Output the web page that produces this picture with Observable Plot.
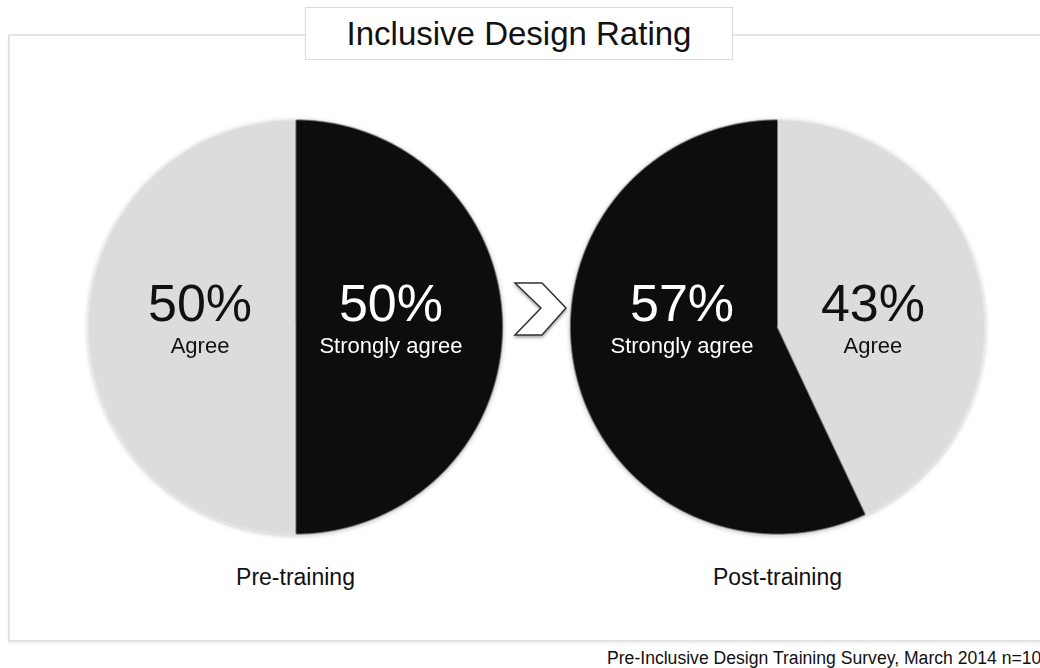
<!DOCTYPE html>
<html>
<head>
<meta charset="utf-8">
<script src="https://cdn.jsdelivr.net/npm/d3@7"></script>
<script src="https://cdn.jsdelivr.net/npm/@observablehq/plot@0.6"></script>
<style>
  html, body { margin: 0; padding: 0; background: #fff; }
  body { width: 1040px; height: 668px; overflow: hidden; position: relative;
         font-family: "Liberation Sans", Arial, Helvetica, sans-serif; }
  #frame { position: absolute; left: 8px; top: 34px; width: 1060px; height: 604px;
           border: 2px solid #e3e3e3; box-shadow: 0 2px 3px rgba(0,0,0,0.06); }
  #title { position: absolute; left: 305px; top: 7px; width: 426px; height: 51px;
           background: #fff; border: 1px solid #dcdcdc; text-align: center;
           font-size: 33px; line-height: 51px; color: #111; z-index: 3; }
  #chart { position: absolute; left: 0; top: 0; z-index: 2; }
  #arrow { position: absolute; left: 505px; top: 272px; z-index: 3; overflow: visible; }
  #footer { position: absolute; left: 607px; top: 648px; font-size: 17.6px; line-height: 20px;
            white-space: nowrap; color: #111; z-index: 3; }
  .pies g[aria-label="line"] { filter: drop-shadow(0px 1px 2px rgba(0,0,0,0.25)); }
</style>
</head>
<body>
<div id="frame"></div>
<div id="title">Inclusive Design Rating</div>
<div id="chart"></div>
<svg id="arrow" width="70" height="75">
  <defs>
    <filter id="sh" x="-30%" y="-30%" width="160%" height="160%">
      <feDropShadow dx="0" dy="2" stdDeviation="1.5" flood-color="#000" flood-opacity="0.35"/>
    </filter>
  </defs>
  <polygon points="10,11 37,11 61,36 37,63 10,63 36,36" fill="#fff" stroke="#333" stroke-width="1.5" stroke-linejoin="miter" filter="url(#sh)"/>
</svg>
<div id="footer">Pre-Inclusive Design Training Survey, March 2014 n=10</div>
<script>
// ---- data ----
const groups = ["Pre-training", "Post-training"];
const categories = ["Strongly agree", "Agree"];
const preValues = [50, 50];    // Strongly agree, Agree
const postValues = [57, 43];   // Strongly agree, Agree
const preOrder = ["Strongly agree", "Agree"];   // clockwise from 12 o'clock
const postOrder = ["Agree", "Strongly agree"];
const sliceColors = ["#0d0d0d", "#dcdcdc"];

// ---- build slice polygons (unit radius) and labels from the data ----
const slicePts = [];
const labels = [];
groups.forEach((g, gi) => {
  const vals = gi === 0 ? preValues : postValues;
  const order = gi === 0 ? preOrder : postOrder;
  const data = order.map(c => ({group: g, category: c, value: vals[categories.indexOf(c)]}));
  const arcs = d3.pie().sort(null).value(d => d.value)(data);
  arcs.forEach(a => {
    const key = g + "|" + a.data.category;
    slicePts.push({group: g, category: a.data.category, key, x: 0, y: 0});
    const n = Math.max(2, Math.ceil((a.endAngle - a.startAngle) / 0.01));
    for (let i = 0; i <= n; i++) {
      const t = a.startAngle + (a.endAngle - a.startAngle) * i / n;
      slicePts.push({group: g, category: a.data.category, key, x: Math.sin(t), y: Math.cos(t)});
    }
    const mid = (a.startAngle + a.endAngle) / 2;
    const side = Math.sign(Math.sin(mid)) || 1;
    labels.push({group: g, category: a.data.category, value: a.data.value, lx: side * 0.46});
  });
});

const dark = labels.filter(d => d.category === "Strongly agree");
const light = labels.filter(d => d.category === "Agree");
const ext = 241 / 207.5;

const chart = Plot.plot({
  width: 1040,
  height: 668,
  marginLeft: 54,
  marginRight: 22,
  marginTop: 119,
  marginBottom: 134,
  className: "pies",
  style: {fontFamily: "'Liberation Sans', Arial, Helvetica, sans-serif", fontSize: "23px", background: "transparent", color: "#111"},
  fx: {domain: groups, padding: 0, label: null, tickSize: 0, tickPadding: 34, axis: "bottom"},
  x: {domain: [-ext, ext], axis: null},
  y: {domain: [-1, 1], axis: null},
  color: {domain: categories, range: sliceColors},
  marks: [
    Plot.line(slicePts, {fx: "group", x: "x", y: "y", z: "key", fill: "category", stroke: "#ffffff", strokeWidth: 1, strokeOpacity: 0.6}),
    Plot.text(dark, {fx: "group", x: "lx", y: 0.031, text: d => d.value + "%", fill: "#ffffff", fontSize: 52, lineAnchor: "bottom"}),
    Plot.text(dark, {fx: "group", x: "lx", y: -0.123, text: "category", fill: "#ffffff", fontSize: 22, lineAnchor: "bottom"}),
    Plot.text(light, {fx: "group", x: "lx", y: 0.031, text: d => d.value + "%", fill: "#111111", fontSize: 52, lineAnchor: "bottom"}),
    Plot.text(light, {fx: "group", x: "lx", y: -0.123, text: "category", fill: "#111111", fontSize: 22, lineAnchor: "bottom"})
  ]
});
document.getElementById("chart").appendChild(chart);
</script>
</body>
</html>
